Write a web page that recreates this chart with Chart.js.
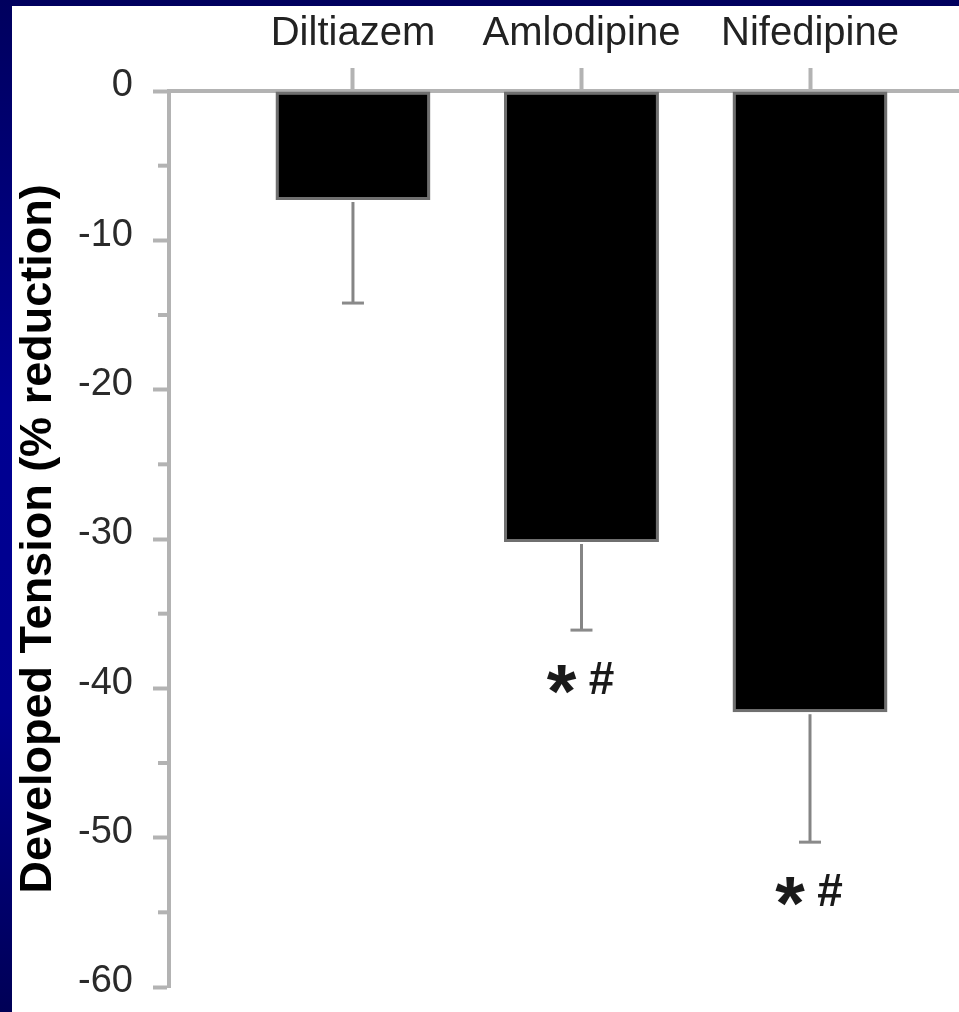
<!DOCTYPE html>
<html>
<head>
<meta charset="utf-8">
<script src="https://cdn.jsdelivr.net/npm/chart.js@4"></script>
<style>
html, body { margin: 0; padding: 0; }
body {
    width: 959px; height: 1012px; overflow: hidden; position: relative;
    background: linear-gradient(to bottom, #00005e 0%, #000092 40%, #00008e 70%, #000056 100%);
}
#wrap { position: absolute; left: 12px; top: 6px; width: 947px; height: 1006px; background: #fff; }
</style>
</head>
<body>
<div id="wrap"><canvas id="chart"></canvas></div>
<script>
// data
const categories = ['Diltiazem', 'Amlodipine', 'Nifedipine'];
const reduction = [-7.3, -30.2, -41.6];
const errorSize = [6.9, 5.9, 8.7];
const marks = ['', '* #', '* #'];
const yTicks = [0, -10, -20, -30, -40, -50, -60];
const yMinorTicks = [-5, -15, -25, -35, -45, -55];

const FONT = '"Liberation Sans", Arial, Helvetica, sans-serif';
const AXIS_GRAY = '#b3b3b3';

// error bars, minor ticks and significance marks
const extras = {
    id: 'extras',
    afterDatasetsDraw(chart) {
        const ctx = chart.ctx;
        const x = chart.scales.x;
        const y = chart.scales.y;
        ctx.save();

        ctx.strokeStyle = AXIS_GRAY;
        ctx.lineWidth = 4;
        yMinorTicks.forEach(v => {
            const py = y.getPixelForValue(v);
            ctx.beginPath();
            ctx.moveTo(y.right - 11, py);
            ctx.lineTo(y.right, py);
            ctx.stroke();
        });

        categories.forEach((c, i) => {
            const px = x.getPixelForValue(i + 1);
            const start = y.getPixelForValue(reduction[i]);
            const end = y.getPixelForValue(reduction[i] - errorSize[i]);
            ctx.strokeStyle = '#858585';
            ctx.lineWidth = 3;
            ctx.beginPath();
            ctx.moveTo(px, start + 2);
            ctx.lineTo(px, end);
            ctx.stroke();
            ctx.strokeStyle = '#8a8a8a';
            ctx.beginPath();
            ctx.moveTo(px - 11, end);
            ctx.lineTo(px + 11, end);
            ctx.stroke();

            if (marks[i]) {
                const parts = marks[i].split(' ');
                const my = end + 48;
                ctx.fillStyle = '#1a1a1a';
                ctx.textAlign = 'center';
                ctx.textBaseline = 'alphabetic';
                ctx.font = 'bold 76px ' + FONT;
                ctx.fillText(parts[0], px - 20, my + 39);
                ctx.font = 'bold 46px ' + FONT;
                ctx.fillText(parts[1], px + 20, my + 16);
            }
        });
        ctx.restore();
    }
};

const ctx = document.getElementById('chart').getContext('2d');
const chart = new Chart(ctx, {
    type: 'bar',
    data: {
        datasets: [{
            data: categories.map((c, i) => ({ x: i + 1, y: reduction[i] })),
            backgroundColor: '#000000',
            borderColor: '#6f6f6f',
            borderWidth: 3,
            borderSkipped: false,
            categoryPercentage: 1,
            barPercentage: 0.678
        }]
    },
    options: {
        responsive: true,
        maintainAspectRatio: false,
        animation: false,
        layout: { padding: { top: 0, left: 0, right: 0, bottom: 25 } },
        plugins: { legend: { display: false }, tooltip: { enabled: false } },
        scales: {
            x: {
                type: 'linear',
                position: 'top',
                offset: false,
                min: 0.195,
                max: 3.652,
                afterBuildTicks: s => { s.ticks = categories.map((c, i) => ({ value: i + 1 })); },
                afterFit: s => { s.height = 85; },
                ticks: {
                    callback: v => categories[v - 1],
                    color: '#222',
                    font: { family: FONT, size: 40 },
                    padding: 10,
                    maxRotation: 0,
                    autoSkip: false
                },
                grid: { offset: false, drawOnChartArea: false, drawTicks: true, tickLength: 23, tickWidth: 4, tickColor: AXIS_GRAY },
                border: { display: true, width: 4, color: AXIS_GRAY }
            },
            y: {
                min: -60,
                max: 0,
                afterBuildTicks: s => { s.ticks = yTicks.map(v => ({ value: v })); },
                afterFit: s => { s.width = 157; s.paddingTop = 0; s.paddingBottom = 0; },
                ticks: {
                    color: '#2a2a2a',
                    font: { family: FONT, size: 38 },
                    padding: 20,
                    labelOffset: -5
                },
                grid: { drawOnChartArea: false, drawTicks: true, tickLength: 16, tickWidth: 4, tickColor: AXIS_GRAY },
                border: { display: true, width: 4, color: AXIS_GRAY },
                title: {
                    display: true,
                    text: 'Developed Tension (% reduction)',
                    color: '#000',
                    font: { family: FONT, size: 45, weight: 'bold' },
                    padding: { top: 0, bottom: 0 }
                }
            }
        }
    },
    plugins: [extras]
});
</script>
</body>
</html>
